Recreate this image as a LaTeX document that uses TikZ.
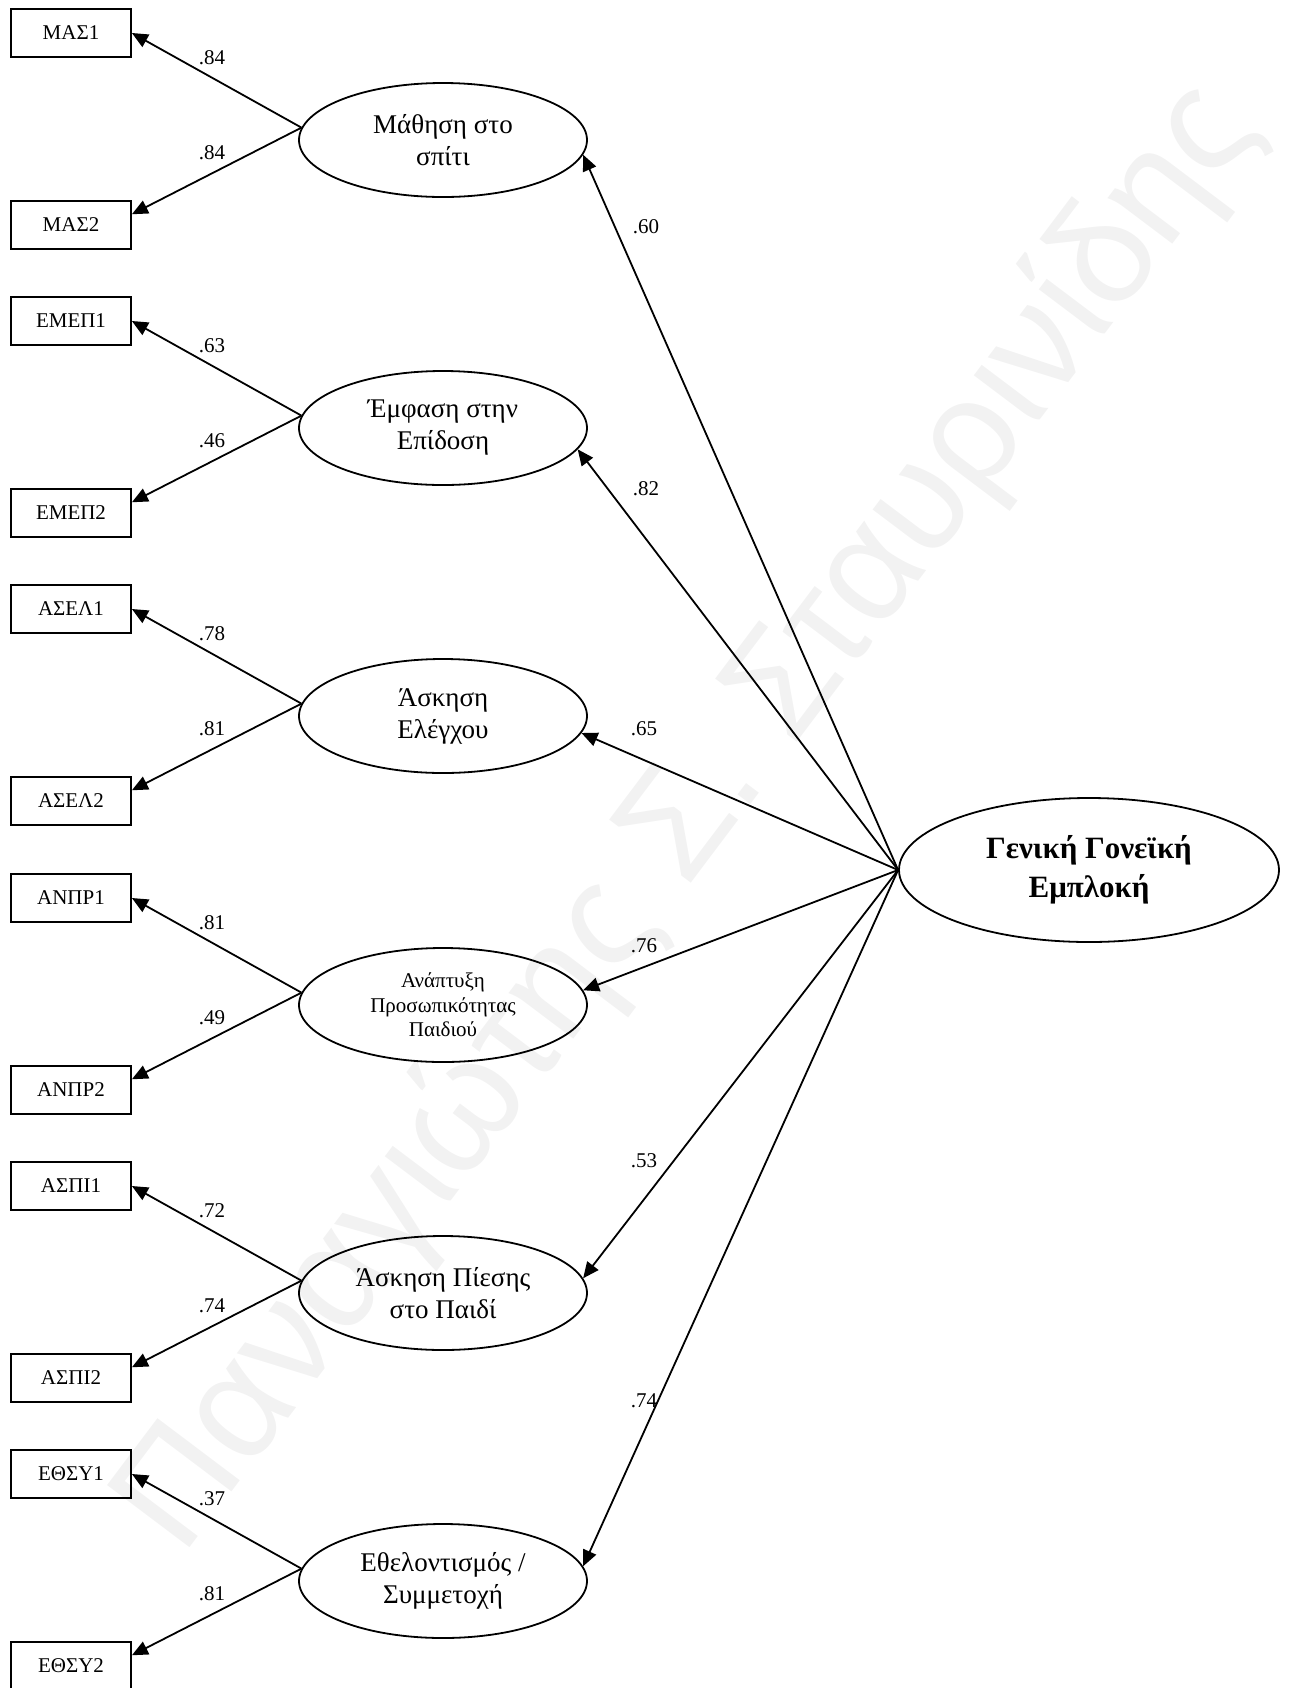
\documentclass[tikz,border=0pt]{standalone}
\usepackage{fontspec}
\setmainfont{Liberation Serif}
\newfontfamily\wmfont{Liberation Sans}
\usetikzlibrary{shapes.geometric,arrows.meta}
\begin{document}
\begin{tikzpicture}[x=0.5pt,y=-0.5pt,
  obs/.style={draw,line width=0.9pt,minimum width=60pt,minimum height=24pt,
    inner sep=0pt,font=\fontsize{10.5}{12}\selectfont},
  lat/.style={draw,ellipse,line width=0.9pt,minimum width=144pt,minimum height=57pt,
    inner sep=0pt,align=center,font=\fontsize{13.5}{16}\selectfont},
  arr/.style={line width=0.9pt,-{Triangle[length=8pt,width=7pt]}},
  coef/.style={inner sep=0pt,font=\fontsize{10.5}{12}\selectfont}]
\useasboundingbox (0,0) rectangle (1292,1688);

% faint diagonal watermark behind the model
\node[text=black!5,rotate=53,inner sep=0pt,font=\fontsize{75}{80}\wmfont]
  (wm) at (689,818) {Παναγιώτης Σ. Σταυρινίδης};

% observed indicators
\node[obs] (m1) at (71,33)   {ΜΑΣ1};
\node[obs] (m2) at (71,225)  {ΜΑΣ2};
\node[obs] (p1) at (71,321)  {ΕΜΕΠ1};
\node[obs] (p2) at (71,513)  {ΕΜΕΠ2};
\node[obs] (c1) at (71,609)  {ΑΣΕΛ1};
\node[obs] (c2) at (71,801)  {ΑΣΕΛ2};
\node[obs] (d1) at (71,898)  {ΑΝΠΡ1};
\node[obs] (d2) at (71,1090) {ΑΝΠΡ2};
\node[obs] (s1) at (71,1186) {ΑΣΠΙ1};
\node[obs] (s2) at (71,1378) {ΑΣΠΙ2};
\node[obs] (v1) at (71,1474) {ΕΘΣΥ1};
\node[obs] (v2) at (71,1666) {ΕΘΣΥ2};

% first-order factors
\node[lat] (e1) at (443,140)  {Μάθηση στο\\σπίτι};
\node[lat] (e2) at (443,428)  {Έμφαση στην\\Επίδοση};
\node[lat] (e3) at (443,716)  {Άσκηση\\Ελέγχου};
\node[lat,font=\fontsize{10.5}{12.2}\selectfont] (e4) at (443,1005)
  {Ανάπτυξη\\Προσωπικότητας\\Παιδιού};
\node[lat] (e5) at (443,1293) {Άσκηση Πίεσης\\στο Παιδί};
\node[lat] (e6) at (443,1581) {Εθελοντισμός /\\Συμμετοχή};

% second-order factor
\node[draw,ellipse,line width=0.9pt,minimum width=190pt,minimum height=72pt,
  inner sep=0pt,align=center,font=\fontsize{15.5}{19.5}\selectfont\bfseries]
  (g) at (1089,870) {Γενική Γονεϊκή\\Εμπλοκή};

% loadings of the indicators
\draw[arr] (e1.175) -- (m1.east);
\draw[arr] (e1.175) -- (m2.10);
\draw[arr] (e2.175) -- (p1.east);
\draw[arr] (e2.175) -- (p2.10);
\draw[arr] (e3.175) -- (c1.east);
\draw[arr] (e3.175) -- (c2.10);
\draw[arr] (e4.175) -- (d1.east);
\draw[arr] (e4.175) -- (d2.10);
\draw[arr] (e5.175) -- (s1.east);
\draw[arr] (e5.175) -- (s2.10);
\draw[arr] (e6.175) -- (v1.east);
\draw[arr] (e6.175) -- (v2.10);

\node[coef] at (212,58)   {.84};
\node[coef] at (212,153)  {.84};
\node[coef] at (212,346)  {.63};
\node[coef] at (212,441)  {.46};
\node[coef] at (212,634)  {.78};
\node[coef] at (212,729)  {.81};
\node[coef] at (212,923)  {.81};
\node[coef] at (212,1018) {.49};
\node[coef] at (212,1211) {.72};
\node[coef] at (212,1306) {.74};
\node[coef] at (212,1499) {.37};
\node[coef] at (212,1594) {.81};

% second-order loadings
\draw[arr] (g.west) -- (e1.-6);
\draw[arr] (g.west) -- (e2.-9);
\draw[arr] (g.west) -- (e3.-7);
\draw[arr] (g.west) -- (e4.6);
\draw[arr] (g.west) -- (e5.6);
\draw[arr] (g.west) -- (e6.6);

\node[coef] at (646,227)  {.60};
\node[coef] at (646,489)  {.82};
\node[coef] at (644,729)  {.65};
\node[coef] at (644,946)  {.76};
\node[coef] at (644,1161) {.53};
\node[coef] at (644,1401) {.74};
\end{tikzpicture}
\end{document}
